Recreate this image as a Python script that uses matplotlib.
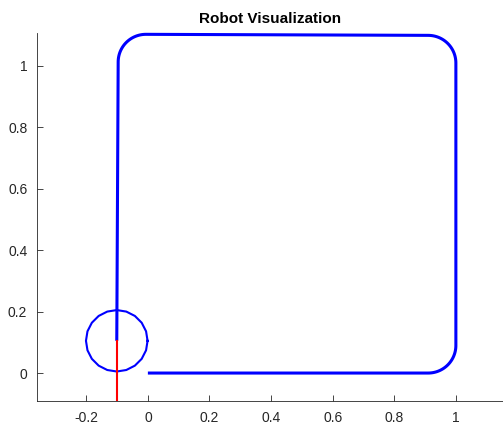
import numpy as np
import matplotlib
matplotlib.use("Agg")
import matplotlib.pyplot as plt

plt.rcParams['font.family'] = ['Liberation Sans', 'DejaVu Sans']

# Path waypoints (corners get rounded with a fillet radius)
path_x = [0.0, 1.0, 1.0, -0.096, -0.101]
path_y = [0.0, 0.0, 1.099, 1.103, 0.105]
fillet_r = 0.09

# Robot pose
robot_x = -0.101
robot_y = 0.105
robot_r = 0.1
robot_heading_deg = -90
heading_len = 0.4
circle_sides = 20

xlim = (-0.36, 1.153)
ylim = (-0.091, 1.107)
xticks = [-0.2, 0, 0.2, 0.4, 0.6, 0.8, 1]
yticks = [0, 0.2, 0.4, 0.6, 0.8, 1]


def filleted(xs, ys, r, n=30):
    pts = np.column_stack([xs, ys]).astype(float)
    out = [pts[0]]
    for i in range(1, len(pts) - 1):
        p0, p1, p2 = pts[i - 1], pts[i], pts[i + 1]
        d1 = (p0 - p1) / np.linalg.norm(p0 - p1)
        d2 = (p2 - p1) / np.linalg.norm(p2 - p1)
        ang = np.arccos(np.clip(np.dot(d1, d2), -1, 1))
        t = r / np.tan(ang / 2)
        a = p1 + d1 * t
        b = p1 + d2 * t
        bis = (d1 + d2) / np.linalg.norm(d1 + d2)
        c = p1 + bis * r / np.sin(ang / 2)
        a0 = np.arctan2(*(a - c)[::-1])
        a1 = np.arctan2(*(b - c)[::-1])
        da = (a1 - a0 + np.pi) % (2 * np.pi) - np.pi
        th = a0 + np.linspace(0, 1, n) * da
        out.extend(np.column_stack([c[0] + r * np.cos(th), c[1] + r * np.sin(th)]))
    out.append(pts[-1])
    return np.array(out)


fig = plt.figure(figsize=(5.03, 4.25), dpi=100)
ax = fig.add_axes([37 / 503, 1 - 401 / 425, 1 - 37 / 503, (401 - 33) / 425])

p = filleted(path_x, path_y, fillet_r)
ax.plot(p[:, 0], p[:, 1], color=(0, 0, 1), lw=2.2, solid_capstyle='butt',
        solid_joinstyle='round', clip_on=False)

th = np.linspace(0, 2 * np.pi, circle_sides + 1)
ax.plot(robot_x + robot_r * np.cos(th), robot_y + robot_r * np.sin(th), color=(0, 0, 1), lw=1.5)

h = np.deg2rad(robot_heading_deg)
ax.plot([robot_x, robot_x + heading_len * np.cos(h)], [robot_y, robot_y + heading_len * np.sin(h)],
        color=(1, 0, 0), lw=1.5)

ax.set_xlim(*xlim)
ax.set_ylim(*ylim)
ax.set_xticks(xticks)
ax.set_yticks(yticks)
ax.set_xticklabels(['-0.2', '0', '0.2', '0.4', '0.6', '0.8', '1'])
ax.set_yticklabels(['0', '0.2', '0.4', '0.6', '0.8', '1'])
for s in ['top', 'right']:
    ax.spines[s].set_visible(False)
for s in ['left', 'bottom']:
    ax.spines[s].set_color('#262626')
    ax.spines[s].set_linewidth(0.6)
ax.tick_params(direction='in', length=4, width=0.6, color='#262626', labelcolor='#262626', labelsize=10, pad=7)
ax.set_title('Robot Visualization', fontsize=11, fontweight='bold', color='black', pad=7)

fig.savefig('out.png', dpi=100)
